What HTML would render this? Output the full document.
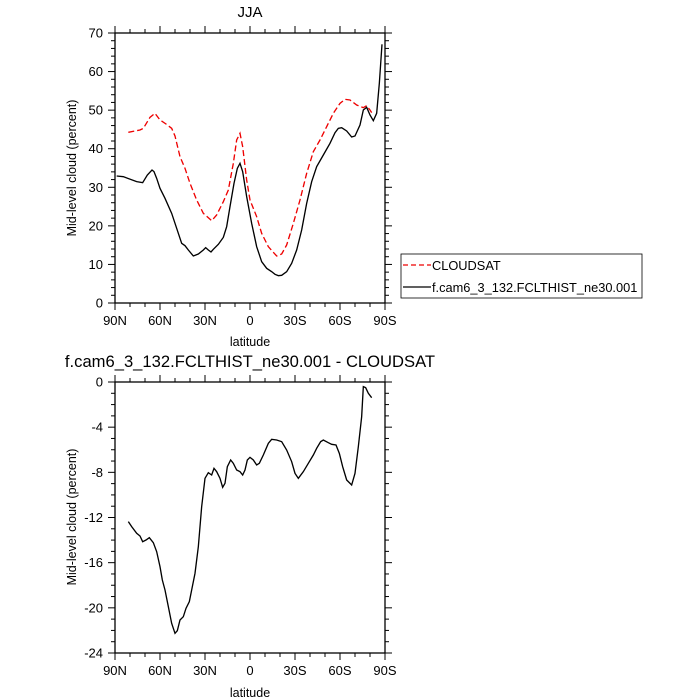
<!DOCTYPE html>
<html><head><style>body{margin:0;background:#fff}svg{display:block}text{font-family:"Liberation Sans",sans-serif;fill:#000}</style></head>
<body>
<svg id="s" width="700" height="700" xmlns="http://www.w3.org/2000/svg">
<rect width="700" height="700" fill="#fff"/>
<text x="250" y="17" font-size="15" text-anchor="middle">JJA</text>
<text x="250" y="367" font-size="16.6" text-anchor="middle">f.cam6_3_132.FCLTHIST_ne30.001 - CLOUDSAT</text>
<text x="250" y="346" font-size="12.5" text-anchor="middle">latitude</text>
<text x="250" y="697" font-size="12.5" text-anchor="middle">latitude</text>
<text transform="translate(76,168) rotate(-90)" font-size="12.5" text-anchor="middle">Mid-level cloud (percent)</text>
<text transform="translate(76,517) rotate(-90)" font-size="12.5" text-anchor="middle">Mid-level cloud (percent)</text>
<g id="ax"></g>
<g transform="translate(60,0) scale(0.33333)" fill="none">
<polyline stroke="#e00" stroke-width="4" stroke-dasharray="18,9" points="205,397 240,390 250,385 270,352 285,340 300,360 318,372 335,385 345,408 360,470 375,505 390,550 410,600 430,640 455,662 470,645 490,605 505,570 520,490 530,420 540,400 548,440 560,540 570,600 590,650 605,700 625,740 650,768 665,762 680,735 700,670 720,600 740,520 760,455 780,420 800,380 820,340 840,310 855,298 870,300 890,315 910,323 920,317 930,330 935,338"/>
<polyline stroke="#000" stroke-width="4" points="170,528 190,530 230,545 248,548 262,525 276,510 282,515 290,535 300,565 315,595 335,640 350,685 365,730 375,737 385,750 400,768 415,762 430,750 437,743 445,750 453,756 460,748 475,733 490,712 500,680 510,620 522,550 532,505 540,490 548,515 560,590 575,670 590,740 605,785 620,805 635,815 645,823 655,827 665,826 680,815 695,790 710,750 725,690 740,610 755,545 770,500 790,465 810,430 825,398 835,385 845,383 860,393 875,411 885,408 900,375 910,330 920,322 930,345 940,362 950,340 958,250 966,133"/>
</g>
<g transform="translate(60,350) scale(0.33333)" fill="none">
<polyline stroke="#000" stroke-width="4" points="205,515 215,530 230,550 240,558 248,575 258,570 268,563 280,578 290,605 300,650 307,690 315,720 325,770 335,820 345,850 352,842 360,810 370,800 378,775 388,755 395,720 405,670 415,590 425,470 435,385 445,368 455,375 462,355 470,365 480,385 488,412 495,400 502,350 512,330 520,340 530,360 540,365 548,375 555,360 562,330 570,322 580,330 590,345 598,340 610,315 625,280 635,268 650,270 665,275 680,300 695,335 705,370 715,385 730,365 745,340 760,315 770,295 782,275 790,270 805,278 815,283 828,285 838,310 848,350 860,390 875,405 885,370 895,290 905,200 910,110 917,113 925,130 935,143"/>
</g>
<rect x="401" y="254" width="241" height="44" fill="none" stroke="#000" stroke-width="0.8"/>
<line x1="403" y1="265" x2="431" y2="265" stroke="#e00" stroke-width="1.3" stroke-dasharray="5,3"/>
<line x1="403" y1="287" x2="431" y2="287" stroke="#000" stroke-width="1.3"/>
<text x="432" y="270" font-size="12.8">CLOUDSAT</text>
<text x="432" y="292" font-size="12.8">f.cam6_3_132.FCLTHIST_ne30.001</text>
</svg>
<script>
var g=document.getElementById('ax'),o='';
function L(a,b,c,d){o+='<line x1="'+a+'" y1="'+b+'" x2="'+c+'" y2="'+d+'" stroke="#000" stroke-width="1"/>';}
function T(x,y,s,a){o+='<text x="'+x+'" y="'+y+'" font-size="13" text-anchor="'+a+'">'+s+'</text>';}
function panel(yt,yb,vmin,vmax,maj,mino,fmt){
 var x0=115,x1=385;
 o+='<rect x="'+x0+'" y="'+yt+'" width="270" height="'+(yb-yt)+'" fill="none" stroke="#000" stroke-width="1.3"/>';
 var labs=['90N','60N','30N','0','30S','60S','90S'];
 for(var d=0;d<=180;d+=10){var x=x0+d*1.5;var m=d%30==0;var l=m?7:4;
  L(x,yb,x,yb+l);L(x,yt,x,yt-l);
  if(m)T(x,yb+22,labs[d/30],'middle');}
 var sc=(yb-yt)/(vmax-vmin);
 for(var v=vmin;v<=vmax+1e-9;v+=mino){var y=yb-(v-vmin)*sc;var m=Math.abs(Math.round(v/maj)*maj-v)<1e-6;var l=m?7:4;
  L(x0,y,x0-l,y);L(x1,y,x1+l,y);
  if(m)T(103,y+4.5,fmt(Math.round(v)),'end');}
}
panel(33,303,0,70,10,2,function(v){return v;});
panel(382,653,-24,0,4,1,function(v){return v;});
g.innerHTML=o;
</script>
</body></html>
